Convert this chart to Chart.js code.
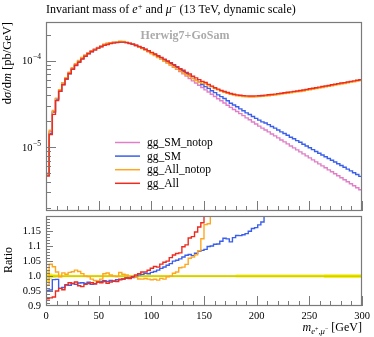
<!DOCTYPE html>
<html><head><meta charset="utf-8">
<script src="https://cdn.jsdelivr.net/npm/chart.js@4.4.1/dist/chart.umd.min.js"></script>
<style>
html,body{margin:0;padding:0;background:#fff;}
#wrap{position:relative;width:374px;height:337px;overflow:hidden;font-family:"Liberation Serif",serif;color:#000;}
canvas{position:absolute;left:0;}
#c1{top:0;width:374px;height:212px;}
#c2{top:205px;width:374px;height:132px;}
.t{position:absolute;white-space:nowrap;line-height:1;}
.sup{font-size:70%;position:relative;top:-0.45em;}
.sub{font-size:72%;position:relative;top:0.35em;}
.rot{transform-origin:right top;transform:rotate(-90deg);}
</style></head><body>
<div id="wrap">
<canvas id="c1" width="374" height="212"></canvas>
<canvas id="c2" width="374" height="132"></canvas>
<div class="t" style="left:46px;top:3px;font-size:12px">Invariant mass of <i>e</i><span class="sup">+</span> and <i>μ</i><span class="sup">−</span> (13 TeV, dynamic scale)</div>
<div class="t" style="left:185px;top:29px;font-size:12px;font-weight:bold;color:#aaaaaa;transform:translateX(-50%)">Herwig7+GoSam</div>
<div class="t rot" style="right:373px;top:22px;font-size:12.5px">d<i>σ</i>/d<i>m</i> [pb/GeV]</div>
<div class="t rot" style="right:372px;top:247px;font-size:12px">Ratio</div>
<div class="t" style="right:12px;top:321px;font-size:12px"><i>m</i><span class="sub"><i>e</i><span class="sup">+</span>,<i>μ</i><span class="sup">−</span></span> [GeV]</div>
</div>
<script>
// ---- data (dσ/dm in units of 1e-6 pb/GeV, 3 GeV bins) ----
const massBinEdges = [0,3,6,9,12,15,18,21,24,27,30,33,36,39,42,45,48,51,54,57,60,63,66,69,72,75,78,81,84,87,90,93,96,99,102,105,108,111,114,117,120,123,126,129,132,135,138,141,144,147,150,153,156,159,162,165,168,171,174,177,180,183,186,189,192,195,198,201,204,207,210,213,216,219,222,225,228,231,234,237,240,243,246,249,252,255,258,261,264,267,270,273,276,279,282,285,288,291,294,297,300];
const UNIT = 1e-6;
const ggSMnotop = [5.01,15.1,25.7,36.3,46.2,55.0,63.1,72.4,81.3,90.2,
98.9,107.6,115.6,123.0,130.3,136.5,141.9,147.9,153.1,157.4,
160.7,162.9,164.4,165.2,164.8,162.2,158.5,154.9,149.6,144.5,
139.0,133.4,127.4,121.3,115.6,110.2,104.7,99.3,94.0,88.9,
83.9,79.2,74.6,70.3,66.1,62.1,58.3,55.0,51.8,48.8,
45.9,43.4,40.8,38.5,36.3,34.3,32.4,30.5,28.8,27.2,
25.8,24.4,23.1,21.8,20.7,19.5,18.5,17.5,16.6,15.8,
15.0,14.2,13.5,12.8,12.1,11.5,10.9,10.3,9.80,9.29,
8.81,8.36,7.93,7.52,7.13,6.76,6.41,6.08,5.77,5.47,
5.19,4.92,4.67,4.43,4.20,3.98,3.78,3.58,3.40,3.22];
const ggSM = [4.77,14.4,25.4,35.9,44.3,52.9,61.3,70.2,79.3,87.7,
96.6,105.2,112.8,120.5,126.7,133.0,139.1,145.2,150.7,154.6,
158.3,160.1,162.4,163.5,163.2,161.2,157.9,154.1,149.6,145.1,
139.8,134.7,128.4,122.8,117.4,112.4,107.4,102.3,97.4,92.6,
88.1,83.4,78.9,74.8,70.7,66.6,62.3,59.2,56.1,53.0,
50.0,47.7,44.9,42.6,40.2,38.3,36.5,34.3,32.1,30.7,
29.3,27.7,26.3,24.9,23.8,22.6,21.5,20.5,19.6,19.0,
18.2,17.3,16.6,15.8,15.0,14.4,13.7,13.0,12.5,11.9,
11.4,10.8,10.3,9.84,9.37,8.92,8.51,8.12,7.75,7.40,
7.06,6.73,6.43,6.13,5.85,5.57,5.32,5.07,4.84,4.60];
const ggAllnotop = [4.86,15.7,26.5,36.8,46.1,55.6,63.5,73.3,82.5,92.0,
100.4,108.5,115.6,122.8,129.0,134.5,139.6,146.4,154.3,159.0,
161.3,162.9,164.1,167.2,165.8,162.8,158.2,154.9,149.0,143.1,
137.6,132.3,126.1,119.8,114.4,108.7,103.9,98.3,93.8,88.9,
84.7,80.3,76.7,72.4,68.7,65.8,62.0,58.9,56.2,54.9,
53.8,51.0,50.2,47.6,46.0,44.5,43.1,41.9,40.9,40.0,
39.3,38.8,38.4,38.1,38.0,38.0,38.1,38.3,38.6,38.9,
39.3,39.7,40.1,40.5,41.0,41.5,42.0,42.5,43.0,43.6,
44.0,44.6,45.3,46.0,46.7,47.4,48.2,48.9,49.7,50.4,
51.2,52.0,52.8,53.7,54.4,55.3,56.1,57.0,57.9,58.7];
const ggAll = [4.63,14.0,23.9,34.5,44.3,52.5,61.2,70.8,79.3,88.4,
95.7,103.8,112.4,119.9,127.4,133.0,139.1,144.6,150.3,153.6,
157.5,160.3,161.4,163.2,163.2,161.2,157.2,154.6,150.2,145.7,
140.9,135.3,129.9,124.5,119.3,113.5,108.9,103.9,98.7,94.4,
89.8,85.2,80.4,77.2,73.0,70.0,66.0,63.1,60.3,57.5,
55.8,53.1,50.7,48.5,46.8,45.2,43.9,42.7,41.7,40.8,
40.2,39.7,39.4,39.1,39.0,39.0,39.1,39.3,39.5,39.9,
40.3,40.6,41.0,41.5,42.0,42.5,43.0,43.5,44.1,44.6,
45.1,45.8,46.5,47.2,47.9,48.6,49.4,50.1,50.9,51.6,
52.5,53.3,54.1,55.0,55.7,56.6,57.5,58.3,59.3,60.1];
// relative uncertainty of the reference (gg_SM_notop), shown as the yellow band
const ggSMnotopRelErr = [0.021,0.009,0.006,0.005,0.005,0.004,0.004,0.004,0.004,0.004,
0.004,0.004,0.004,0.004,0.004,0.004,0.004,0.004,0.004,0.004,
0.004,0.004,0.004,0.004,0.004,0.004,0.004,0.004,0.004,0.004,
0.004,0.004,0.004,0.004,0.004,0.004,0.004,0.004,0.004,0.004,
0.004,0.004,0.004,0.004,0.004,0.004,0.004,0.004,0.004,0.004,
0.004,0.004,0.004,0.004,0.004,0.004,0.004,0.004,0.004,0.004,
0.005,0.005,0.005,0.005,0.005,0.005,0.005,0.005,0.005,0.005,
0.005,0.005,0.005,0.005,0.005,0.005,0.005,0.005,0.005,0.005,
0.005,0.005,0.005,0.005,0.005,0.005,0.005,0.005,0.006,0.006,
0.006,0.006,0.006,0.006,0.006,0.006,0.006,0.006,0.006,0.006];
const seriesLabels = ['gg_SM_notop','gg_SM','gg_All_notop','gg_All'];
const xTickLabels = ['0','50','100','150','200','250','300'];
const ratioTickLabels = ['0.9','0.95','1.0','1.05','1.1','1.15'];

// ---- styling ----
const FONT = '"Liberation Serif", serif';
const COLORS = {gg_SM_notop:'#e07fc8', gg_SM:'#3b5fea', gg_All_notop:'#ffa61f', gg_All:'#ee2b1e'};
const DRAW_ORDER = {gg_SM_notop:3, gg_SM:2, gg_All_notop:1, gg_All:0};
const seriesValues = {gg_SM_notop:ggSMnotop, gg_SM:ggSM, gg_All_notop:ggAllnotop, gg_All:ggAll};

function histPoints(values, scale){
  const s = scale || 1;
  const pts = values.map((v,i)=>({x:massBinEdges[i], y:v*s}));
  pts.push({x:massBinEdges[values.length], y:values[values.length-1]*s});
  return pts;
}
function line(ctx,x1,y1,x2,y2){ctx.beginPath();ctx.moveTo(x1,y1);ctx.lineTo(x2,y2);ctx.stroke();}

function makeFrame(id, yTicks){
  return {id, afterDatasetsDraw(chart){
    const {ctx, chartArea:a, scales} = chart;
    ctx.save();
    ctx.strokeStyle = '#7a7a7a'; ctx.lineWidth = 1;
    for (let v = 0; v <= 300; v += 10){
      const px = Math.round(scales.x.getPixelForValue(v)) + 0.5;
      line(ctx, px, a.bottom, px, a.bottom - (v % 50 === 0 ? 10 : 5));
    }
    yTicks(scales.y).forEach(([val,len])=>{
      const py = Math.round(scales.y.getPixelForValue(val)) + 0.5;
      if (py < a.top || py > a.bottom) return;
      line(ctx, a.left, py, a.left + len, py);
    });
    ctx.lineWidth = 1.2;
    ctx.strokeRect(Math.round(a.left)+0.5, Math.round(a.top)+0.5, Math.round(a.width)-1, Math.round(a.height)-1);
    ctx.restore();
  }};
}

const logTicks = (ys) => {
  const out = [];
  for (let p = -7; p <= -3; p++) for (let k = 1; k <= 9; k++) {
    const v = k * Math.pow(10, p);
    if (v >= ys.min && v <= ys.max) out.push([v, k === 1 ? 10 : 5]);
  }
  return out;
};
const ratioTicks = (ys) => {
  const out = [];
  for (let k = 90; k <= 120; k++) out.push([k/100, k % 5 === 0 ? 7 : 4]);
  return out;
};

const logLabels = {id:'logLabels', afterDraw(chart){
  const {ctx, scales:{y}} = chart;
  ctx.save(); ctx.fillStyle = '#000'; ctx.textBaseline = 'alphabetic'; ctx.textAlign = 'left';
  for (let p = Math.ceil(Math.log10(y.min)); p <= Math.floor(Math.log10(y.max)); p++){
    const py = y.getPixelForValue(Math.pow(10,p));
    const sup = '\u2212' + Math.abs(p);
    ctx.font = '7.5px ' + FONT; const ws = ctx.measureText(sup).width;
    ctx.font = '10.5px ' + FONT; const wb = ctx.measureText('10').width;
    const right = 41;
    ctx.fillText('10', right - ws - wb - 0.5, py + 3.5);
    ctx.font = '7.5px ' + FONT; ctx.fillText(sup, right - ws, py - 1.5);
  }
  ctx.restore();
}};

const histLegend = {id:'histLegend', afterDatasetsDraw(chart){
  const ctx = chart.ctx;
  ctx.save();
  ctx.font = '11.5px ' + FONT; ctx.textBaseline = 'middle'; ctx.textAlign = 'left'; ctx.fillStyle = '#000';
  seriesLabels.forEach((lab, k) => {
    const yy = 142.5 + k * 13.6;
    ctx.strokeStyle = COLORS[lab]; ctx.lineWidth = 1.5;
    line(ctx, 115, yy, 140, yy);
    ctx.fillText(lab, 147, yy + 0.5);
  });
  ctx.restore();
}};

new Chart(document.getElementById('c1'), {
  type:'line',
  data:{datasets: seriesLabels.map(lab => ({
    label: lab, data: histPoints(seriesValues[lab], UNIT), borderColor: COLORS[lab],
    borderWidth: 1.4, pointRadius: 0, stepped: true, fill: false, order: DRAW_ORDER[lab], clip: 0
  }))},
  options:{
    responsive:false, animation:false, devicePixelRatio:1,
    layout:{padding:{top:22,right:12,bottom:1,left:0}},
    plugins:{legend:{display:false}, tooltip:{enabled:false}},
    scales:{
      x:{type:'linear', min:0, max:300, display:false},
      y:{type:'logarithmic', min:1.83e-6, max:2.79e-4, afterFit(s){s.width=46;},
         grid:{display:false, drawTicks:false}, border:{display:false}, ticks:{display:false}}
    }
  },
  plugins:[makeFrame('frame1', logTicks), logLabels, histLegend]
});

const ratioOf = vals => vals.map((v,i) => v / ggSMnotop[i]);
const ratioSets = ['gg_All','gg_All_notop','gg_SM'].map(lab => ({
  label: lab, data: histPoints(ratioOf(seriesValues[lab])), borderColor: COLORS[lab],
  borderWidth: 1.4, pointRadius: 0, stepped: true, fill: false, order: DRAW_ORDER[lab], clip: 0
}));
ratioSets.push({label:'gg_SM_notop', data: histPoints(ratioOf(ggSMnotop)), borderColor:'#c8c200',
  borderWidth: 1.3, pointRadius: 0, stepped: true, fill: false, order: 3, clip: 0});
ratioSets.push({label:'band_hi', data: histPoints(ggSMnotopRelErr.map(e => 1 + e)), borderWidth: 0,
  borderColor:'rgba(0,0,0,0)', backgroundColor:'#f6f21c', pointRadius: 0, stepped: true, fill: '+1', order: 4, clip: 0});
ratioSets.push({label:'band_lo', data: histPoints(ggSMnotopRelErr.map(e => 1 - e)), borderWidth: 0,
  borderColor:'rgba(0,0,0,0)', pointRadius: 0, stepped: true, fill: false, order: 5, clip: 0});

new Chart(document.getElementById('c2'), {
  type:'line',
  data:{datasets: ratioSets},
  options:{
    responsive:false, animation:false, devicePixelRatio:1,
    layout:{padding:{top:6,right:12,bottom:0,left:0}},
    plugins:{legend:{display:false}, tooltip:{enabled:false}},
    scales:{
      x:{type:'linear', min:0, max:300, afterFit(s){s.height=31;},
         grid:{display:false, drawTicks:false}, border:{display:false},
         ticks:{stepSize:50, padding:4, color:'#000', font:{family:FONT, size:10.5}, maxRotation:0,
                callback:(v)=>{const s = String(Math.round(v)); return xTickLabels.includes(s) ? s : '';}}},
      y:{type:'linear', min:0.9, max:1.2, afterFit(s){s.width=46;},
         grid:{display:false, drawTicks:false}, border:{display:false},
         ticks:{stepSize:0.05, padding:5, color:'#000', font:{family:FONT, size:10.5}, autoSkip:false,
                callback:(v)=>{const s = Math.abs(v-1)<1e-6 ? '1.0' : String(+v.toFixed(2)); return ratioTickLabels.includes(s) ? s : '';}}}
    }
  },
  plugins:[makeFrame('frame2', ratioTicks)]
});
</script>
</body></html>
